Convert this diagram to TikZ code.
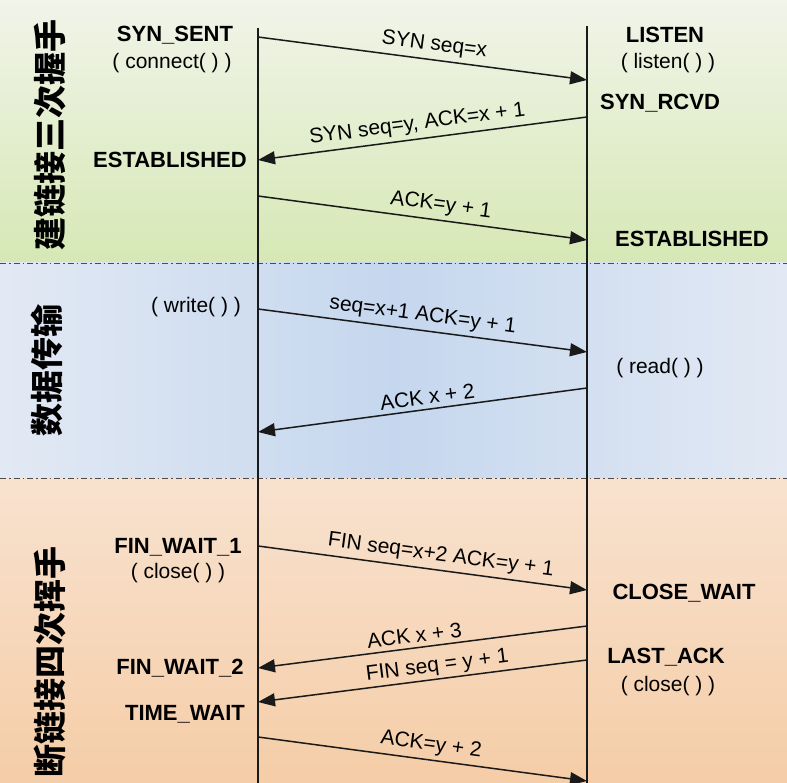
\documentclass[tikz,border=0pt]{standalone}
\usepackage{fontspec}
\setmainfont{Liberation Sans}
\newfontfamily\cjk{Noto Sans CJK SC}
\usetikzlibrary{arrows.meta}
\definecolor{lineink}{HTML}{1A1A1A}
\definecolor{greentop}{HTML}{F1F4E9}
\definecolor{greenbot}{HTML}{D6E8B5}
\definecolor{blueedge}{HTML}{E2E9F4}
\definecolor{bluemid}{HTML}{C5D7EE}
\definecolor{orangetop}{HTML}{F8E2CF}
\definecolor{orangebot}{HTML}{F5CDA7}
\tikzset{
  lifeline/.style={draw=lineink, line width=1.3pt},
  sep/.style={draw=black!70, line width=0.9pt, dash pattern=on 6pt off 3pt on 1.5pt off 3pt},
  msg/.style={draw=lineink, line width=1.5pt, -{Triangle[length=17pt,width=13pt]}},
  msglabel/.style={sloped, above=1pt, font=\fontsize{21}{24}\selectfont},
  state/.style={font=\fontsize{22}{26}\selectfont\bfseries, inner sep=0pt},
  call/.style={font=\fontsize{21}{25}\selectfont, inner sep=0pt},
  phase/.style={rotate=90, font=\cjk\bfseries\fontsize{33}{36}\selectfont, inner sep=0pt}
}
\begin{document}
\begin{tikzpicture}[x=1pt,y=-1pt]
\useasboundingbox (0,0) rectangle (787,783);
% bands
\shade[top color=greentop, bottom color=greenbot] (0,0) rectangle (787,263);
\shade[left color=blueedge, right color=blueedge, middle color=bluemid] (0,263) rectangle (787,478);
\shade[top color=orangetop, bottom color=orangebot] (0,478) rectangle (787,783);
\draw[sep] (0,263) -- (787,263);
\draw[sep] (0,478) -- (787,478);
% lifelines
\coordinate (ltop) at (258,28);
\coordinate (lbot) at (258,783);
\coordinate (rtop) at (587,26);
\coordinate (rbot) at (587,783);
\draw[lifeline] (ltop) -- (lbot);
\draw[lifeline] (rtop) -- (rbot);
% message endpoints
\coordinate (a1) at (258,37);  \coordinate (b1) at (587,80);
\coordinate (a2) at (587,117); \coordinate (b2) at (258,160);
\coordinate (a3) at (258,196); \coordinate (b3) at (587,240);
\coordinate (a4) at (258,309); \coordinate (b4) at (587,352);
\coordinate (a5) at (587,388); \coordinate (b5) at (258,432);
\coordinate (a6) at (258,546); \coordinate (b6) at (587,590);
\coordinate (a7) at (587,626); \coordinate (b7) at (258,668);
\coordinate (a8) at (587,660); \coordinate (b8) at (258,702);
\coordinate (a9) at (258,737); \coordinate (b9) at (587,781);
% messages
\draw[msg] (a1) -- node[msglabel, pos=0.53] (m1) {SYN seq=x} (b1);
\draw[msg] (a2) -- node[msglabel, pos=0.51] (m2) {SYN seq=y, ACK=x + 1} (b2);
\draw[msg] (a3) -- node[msglabel, pos=0.55] (m3) {ACK=y + 1} (b3);
\draw[msg] (a4) -- node[msglabel, pos=0.495] (m4) {seq=x+1 ACK=y + 1} (b4);
\draw[msg] (a5) -- node[msglabel, pos=0.48] (m5) {ACK x + 2} (b5);
\draw[msg] (a6) -- node[msglabel, pos=0.55] (m6) {FIN seq=x+2 ACK=y + 1} (b6);
\draw[msg] (a7) -- node[msglabel, pos=0.52, above=0pt] (m7) {ACK x + 3} (b7);
\draw[msg] (a8) -- node[msglabel, pos=0.45, above=-2pt] (m8) {FIN seq = y + 1} (b8);
\draw[msg] (a9) -- node[msglabel, pos=0.52] (m9) {ACK=y + 2} (b9);
% states left
\node[state] (synsent) at (175,35) {SYN\_SENT};
\node[call] (connect) at (172,63) {( connect( ) )};
\node[state] (estl) at (170,160) {ESTABLISHED};
\node[call] (write) at (196,307) {( write( ) )};
\node[state] (fw1) at (178,547) {FIN\_WAIT\_1};
\node[call] (closel) at (178,573) {( close( ) )};
\node[state] (fw2) at (180,668) {FIN\_WAIT\_2};
\node[state] (tw) at (185,714) {TIME\_WAIT};
% states right
\node[state] (listen) at (665,35) {LISTEN};
\node[call] (listenc) at (668,63) {( listen( ) )};
\node[state] (synrcvd) at (660,103) {SYN\_RCVD};
\node[state] (estr) at (692,239) {ESTABLISHED};
\node[call] (read) at (660,368) {( read( ) )};
\node[state] (cw) at (684,593) {CLOSE\_WAIT};
\node[state] (la) at (666,657) {LAST\_ACK};
\node[call] (closer) at (668,686) {( close( ) )};
% phases
\node[phase] (p1) at (50,135) {建链接三次握手};
\node[phase] (p2) at (47,370) {数据传输};
\node[phase] (p3) at (50,662) {断链接四次挥手};
\end{tikzpicture}
\end{document}
